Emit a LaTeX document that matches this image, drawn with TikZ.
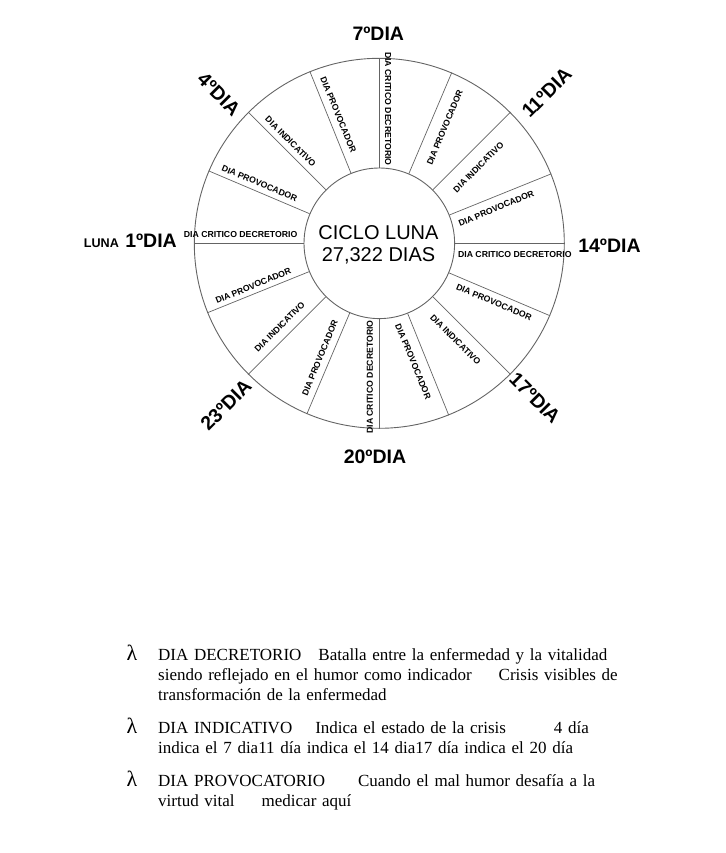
\documentclass[tikz,border=0pt]{standalone}
\usepackage{fontspec}
\setmainfont{Liberation Serif}
\setsansfont{Liberation Sans}
\usetikzlibrary{positioning}
\definecolor{wheelgray}{RGB}{100, 100, 100}

\tikzset{
  ring/.style={circle, draw=wheelgray, line width=0.9pt, inner sep=0pt},
  spoke/.style={draw=wheelgray, line width=0.7pt},
  sectorlabel/.style={font=\sffamily\bfseries\fontsize{8.7}{9}\selectfont, inner sep=0pt},
  daylabel/.style={font=\sffamily\bfseries\fontsize{19.5}{20}\selectfont, inner sep=0pt},
  lunalabel/.style={font=\sffamily\bfseries\fontsize{12.6}{13}\selectfont, inner sep=0pt},
  centerlabel/.style={font=\sffamily\fontsize{20}{21.5}\selectfont, align=center, inner sep=0pt}
}
\newcommand{\lambdamark}{\smash{\fontsize{22}{22}\selectfont λ}}

\begin{document}
\begin{tikzpicture}[x=1pt, y=1pt]
  \useasboundingbox (0,0) rectangle (725,-853);
  \coordinate (c) at (379.3,-243.3);
  \node[ring, minimum size=370pt] (outer) at (c) {};
  \node[ring, minimum size=150.6pt] (inner) at (c) {};
  \foreach \a in {0,22.5,...,337.5}
    \draw[spoke] (inner.\a) -- (outer.\a);

  \node[centerlabel] (title) at (378.5,-245) {CICLO LUNA\\27,322 DIAS};

  \foreach \ang/\rad/\rot/\txt [count=\i] in {
      86.2/134.6/-90/DIA CRITICO DECRETORIO,
      60.5/133/67.5/DIA PROVOCADOR,
      37.5/125/45/DIA INDICATIVO,
      16.6/122/22.5/DIA PROVOCADOR,
      -4.9/136/0/DIA CRITICO DECRETORIO,
      -27.2/129/-22.5/DIA PROVOCADOR,
      -51.7/123/-45/DIA INDICATIVO,
      -74/123/-67.5/DIA PROVOCADOR,
      -94/134/90/DIA CRITICO DECRETORIO,
      -117.4/129/67.5/DIA PROVOCADOR,
      -140/130/45/DIA INDICATIVO,
      -161.4/133/22.5/DIA PROVOCADOR,
      176.3/139/0/DIA CRITICO DECRETORIO,
      153.4/134/-22.5/DIA PROVOCADOR,
      131.1/135/-45/DIA INDICATIVO,
      107.7/135/-67.5/DIA PROVOCADOR}
    \node[sectorlabel, rotate=\rot] (sector\i) at ([shift={(\ang:\rad)}]c) {\txt};

  \node[daylabel] (day7) at (378.3,-33.7) {7ºDIA};
  \node[daylabel, rotate=-45] (day4) at (219,-94) {4ºDIA};
  \node[daylabel, rotate=45] (day11) at (546.7,-92.5) {11ºDIA};
  \node[daylabel] (day14) at (609.5,-246) {14ºDIA};
  \node[daylabel, rotate=-45] (day17) at (535,-398) {17ºDIA};
  \node[daylabel] (day20) at (375,-457) {20ºDIA};
  \node[daylabel, rotate=45] (day23) at (226,-405) {23ºDIA};
  \node[daylabel, anchor=east] (day1) at (177,-241) {1ºDIA};
  \node[lunalabel, left=6pt of day1.base west, anchor=base east] (luna) {LUNA};

  \setlength{\leftmargini}{37pt}
  \node[anchor=north west, inner sep=0pt, text width=560pt, align=left,
        font=\fontsize{17}{19.7}\selectfont] (legend) at (121,-633) {
    \begin{itemize}\setlength{\itemsep}{9.5pt}\setlength{\parsep}{0pt}\setlength{\labelsep}{21pt}
      \item[\lambdamark] DIA DECRETORIO\hspace{17pt}Batalla entre la enfermedad y la vitalidad\\
        siendo reflejado en el humor como indicador\hspace{27pt}Crisis visibles de\\
        transformación de la enfermedad
      \item[\lambdamark] DIA INDICATIVO\hspace{23pt}Indica el estado de la crisis\hspace{48pt}4 día\\
        indica el 7 dia11 día indica el 14 dia17 día indica el 20 día
      \item[\lambdamark] DIA PROVOCATORIO\hspace{33pt}Cuando el mal humor desafía a la\\
        virtud vital\hspace{27pt}medicar aquí
    \end{itemize}
  };
\end{tikzpicture}
\end{document}
